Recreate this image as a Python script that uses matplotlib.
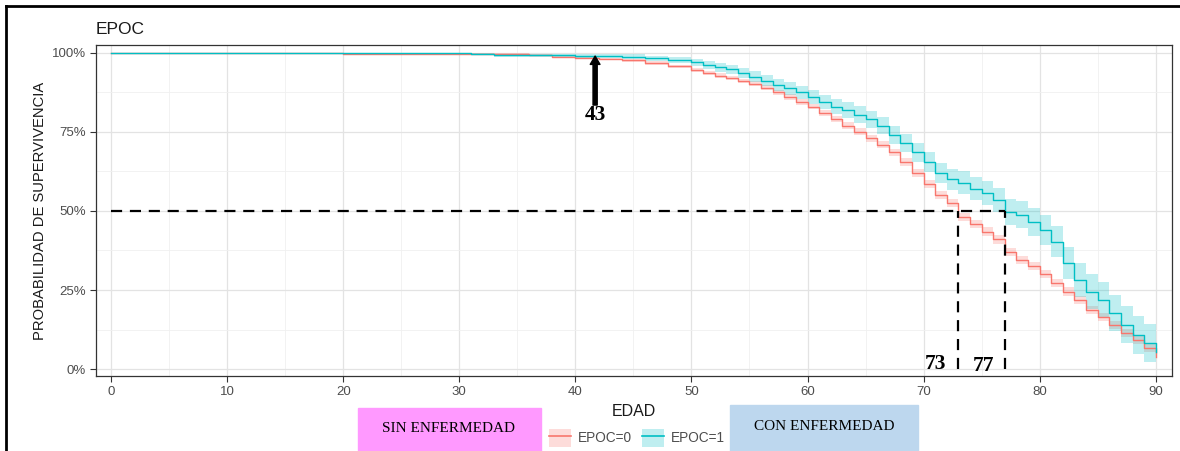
import numpy as np
import matplotlib.pyplot as plt
from matplotlib.patches import Rectangle, Patch
from matplotlib.lines import Line2D

# Curvas de supervivencia (Kaplan-Meier)
edad0 = [0, 20, 36, 38, 40, 42, 44, 46, 48] + list(range(50, 91))
surv0 = [1.0, 0.997, 0.993, 0.988, 0.985, 0.981, 0.976, 0.968, 0.957,
         0.946, 0.936, 0.928, 0.920, 0.912, 0.903, 0.89, 0.875, 0.86, 0.845,
         0.83, 0.81, 0.79, 0.77, 0.75, 0.73, 0.71, 0.685, 0.655, 0.62,
         0.585, 0.55, 0.525, 0.48, 0.46, 0.435, 0.41, 0.37, 0.345, 0.325,
         0.30, 0.272, 0.245, 0.218, 0.187, 0.165, 0.14, 0.114, 0.092, 0.066,
         0.039]
ic0 = [0.0, 0.002, 0.003, 0.003, 0.004, 0.004, 0.005, 0.005, 0.006,
       0.006, 0.006, 0.007, 0.007, 0.007, 0.008, 0.008, 0.008, 0.009, 0.009,
       0.009, 0.010, 0.010, 0.010, 0.011, 0.011, 0.011, 0.012, 0.012, 0.012,
       0.012, 0.013, 0.013, 0.013, 0.013, 0.013, 0.013, 0.013, 0.013, 0.013,
       0.013, 0.013, 0.013, 0.013, 0.013, 0.013, 0.013, 0.012, 0.012, 0.012,
       0.012]

edad1 = [0, 31, 33, 40, 44, 46, 48] + list(range(50, 91))
surv1 = [1.0, 0.997, 0.993, 0.991, 0.988, 0.983, 0.978,
         0.97, 0.962, 0.955, 0.948, 0.936, 0.925, 0.912, 0.90, 0.888, 0.875,
         0.86, 0.845, 0.83, 0.82, 0.805, 0.79, 0.77, 0.74, 0.715, 0.685,
         0.655, 0.62, 0.60, 0.59, 0.57, 0.557, 0.535, 0.497, 0.488, 0.465,
         0.44, 0.403, 0.335, 0.282, 0.245, 0.218, 0.177, 0.14, 0.108, 0.082,
         0.055]
ic1 = [0.0, 0.003, 0.005, 0.006, 0.007, 0.008, 0.010,
       0.012, 0.013, 0.014, 0.015, 0.016, 0.017, 0.018, 0.019, 0.020, 0.021,
       0.022, 0.023, 0.024, 0.025, 0.026, 0.027, 0.028, 0.029, 0.030, 0.031,
       0.032, 0.033, 0.034, 0.035, 0.036, 0.037, 0.039, 0.041, 0.043, 0.045,
       0.047, 0.049, 0.051, 0.053, 0.055, 0.057, 0.058, 0.059, 0.060, 0.060,
       0.060]

medianas = [73, 77]
edad_flecha = 41.7
etiqueta_flecha = "43"
x_ticks = list(range(0, 91, 10))
y_ticks = [0, 0.25, 0.5, 0.75, 1.0]
y_tick_labels = ["0%", "25%", "50%", "75%", "100%"]

rojo = "#F8766D"
turquesa = "#00BFC4"
gris = "#4D4D4D"

plt.rcParams['font.family'] = ['Liberation Sans', 'DejaVu Sans']

fig = plt.figure(figsize=(11.8, 4.51), dpi=100)
ax = fig.add_axes([96 / 1180, 1 - 376 / 451, (1172 - 96) / 1180, (376 - 45) / 451])

for edad, surv, ic, color in [(edad0, surv0, ic0, rojo), (edad1, surv1, ic1, turquesa)]:
    e = np.array(edad, dtype=float)
    s = np.array(surv)
    w = np.array(ic)
    ax.fill_between(e, s - w, np.minimum(s + w, 1.0), step='post',
                    color=color, alpha=0.25, lw=0)
    ax.step(e, s, where='post', color=color, lw=1.0)

# lineas de la mediana
ax.plot([0, medianas[1]], [0.5, 0.5], color='black', lw=1.6, ls=(0, (5, 3.5)))
for m in medianas:
    ax.plot([m, m], [0, 0.5], color='black', lw=1.6, ls=(0, (5, 3.5)))
ax.text(medianas[0] - 1.1, 0.0, str(medianas[0]), ha='right', va='baseline',
        family='Liberation Serif', fontsize=15.5, fontweight='bold')
ax.text(medianas[1] - 0.9, -0.006, str(medianas[1]), ha='right', va='baseline',
        family='Liberation Serif', fontsize=15.5, fontweight='bold')

ax.annotate("", xy=(edad_flecha, 0.99), xytext=(edad_flecha, 0.835),
            arrowprops=dict(facecolor='black', edgecolor='black', width=3,
                            headwidth=7, headlength=6))
ax.text(edad_flecha, 0.835, etiqueta_flecha, ha='center', va='top',
        family='Liberation Serif', fontsize=15.5, fontweight='bold')

ax.set_xlim(-1.3, 91.4)
ax.set_ylim(-0.022, 1.025)
ax.set_xticks(x_ticks)
ax.set_xticks(np.arange(5, 91, 10), minor=True)
ax.set_yticks(y_ticks)
ax.set_yticklabels(y_tick_labels)
ax.set_yticks([0.125, 0.375, 0.625, 0.875], minor=True)
ax.grid(True, which='major', color='#E3E3E3', lw=0.9)
ax.grid(True, which='minor', color='#F0F0F0', lw=0.6)
ax.set_axisbelow(True)
ax.tick_params(which='major', colors='#333333', labelcolor=gris, labelsize=9.5, length=4)
ax.tick_params(which='minor', length=0)
for s in ax.spines.values():
    s.set_color('#333333')
    s.set_linewidth(0.9)

ax.set_xlabel("EDAD", fontsize=11.5, color='#1A1A1A', labelpad=4)
ax.set_ylabel("PROBABILIDAD DE SUPERVIVENCIA", fontsize=10.6, color='#1A1A1A')
ax.yaxis.set_label_coords((47 - 96) / 1076, 0.5)
ax.set_title("EPOC", loc='left', fontsize=12.5, color='#1A1A1A', pad=8)

# cajas de texto bajo el grafico
fig.patches.append(Rectangle((358 / 1180, 0), 183 / 1180, 43 / 451,
                             transform=fig.transFigure, color='#FF99FF', zorder=0))
fig.patches.append(Rectangle((730 / 1180, 0), 188 / 1180, 46 / 451,
                             transform=fig.transFigure, color='#BDD7EE', zorder=0))
fig.text(449 / 1180, 1 - 428 / 451, "SIN ENFERMEDAD", ha='center', va='center',
         family='Liberation Serif', fontsize=11)
fig.text(824 / 1180, 1 - 426 / 451, "CON ENFERMEDAD", ha='center', va='center',
         family='Liberation Serif', fontsize=11)

h0 = (Patch(facecolor=rojo, alpha=0.25, lw=0), Line2D([], [], color=rojo, lw=1.2))
h1 = (Patch(facecolor=turquesa, alpha=0.25, lw=0), Line2D([], [], color=turquesa, lw=1.2))
leg = fig.legend([h0, h1], ["EPOC=0", "EPOC=1"], loc='center', ncol=2,
                 bbox_to_anchor=(637 / 1180, 1 - 438 / 451), frameon=False,
                 fontsize=9.8, handlelength=1.6, handleheight=1.6,
                 columnspacing=0.8, handletextpad=0.5)
for t in leg.get_texts():
    t.set_color(gris)

# marco negro
fig.add_artist(Line2D([6 / 1180, 1], [1 - 6 / 451, 1 - 6 / 451], color='black', lw=2))
fig.add_artist(Line2D([6 / 1180, 6 / 1180], [0, 1 - 6 / 451], color='black', lw=2))

fig.savefig("out.png", dpi=100)
